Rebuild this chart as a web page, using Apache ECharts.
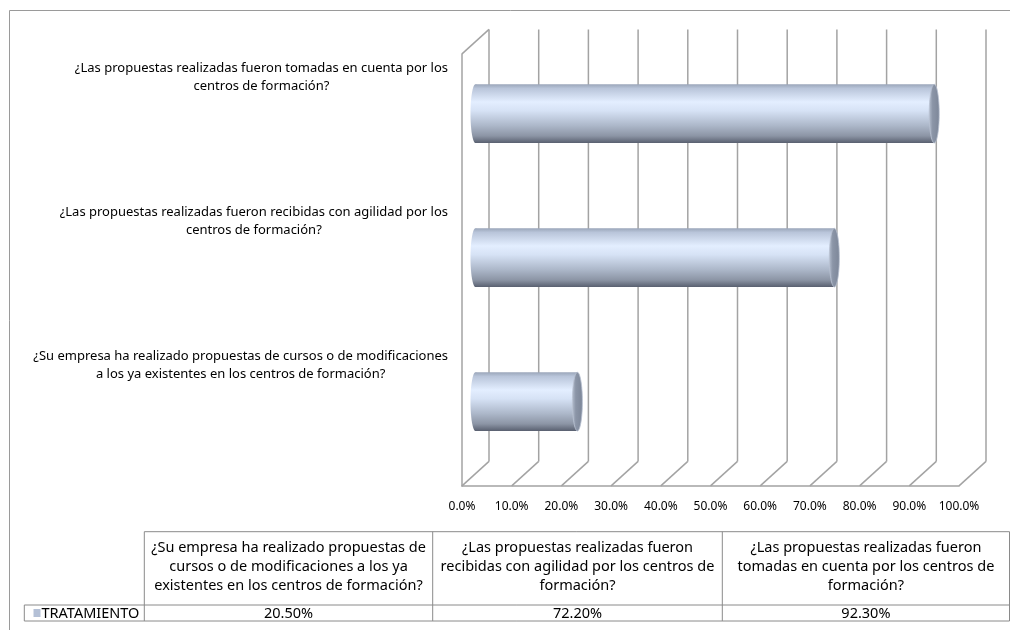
<!DOCTYPE html>
<html>
<head>
<meta charset="utf-8">
<script src="https://cdn.jsdelivr.net/npm/echarts@6/dist/echarts.min.js"></script>
<style>
  html, body { margin: 0; padding: 0; background: #ffffff; }
  #chart { width: 1010px; height: 630px; }
</style>
</head>
<body>
<div id="chart"></div>
<script>
// ---------- data ----------
const categories = [
  '¿Su empresa ha realizado propuestas de cursos o de modificaciones a los ya existentes en los centros de formación?',
  '¿Las propuestas realizadas fueron recibidas con agilidad por los centros de formación?',
  '¿Las propuestas realizadas fueron tomadas en cuenta por los centros de formación?'
];
const axisLabelLines = [
  ['¿Su empresa ha realizado propuestas de cursos o de modificaciones', 'a los ya existentes en los centros de formación?'],
  ['¿Las propuestas realizadas fueron recibidas con agilidad por los', 'centros de formación?'],
  ['¿Las propuestas realizadas fueron tomadas en cuenta por los', 'centros de formación?']
];
const tableHeaderLines = [
  ['¿Su empresa ha realizado propuestas de', 'cursos o de modificaciones a los ya', 'existentes en los centros de formación?'],
  ['¿Las propuestas realizadas fueron', 'recibidas con agilidad por los centros de', 'formación?'],
  ['¿Las propuestas realizadas fueron', 'tomadas en cuenta por los centros de', 'formación?']
];
const seriesName = 'TRATAMIENTO';
const values = [20.5, 72.2, 92.3];
const xTicks = [0, 10, 20, 30, 40, 50, 60, 70, 80, 90, 100];

// ---------- layout ----------
const FONT = '"Noto Sans", "Open Sans", sans-serif';
const DEPTH_X = 27, DEPTH_Y = 24.5;
const W = 497, H = 432;
const BACK = { left: 489, top: 29.4, width: W, height: H };
const MID = { left: BACK.left - DEPTH_X / 2, top: BACK.top + DEPTH_Y / 2, width: W, height: H };
const FRONT = { left: BACK.left - DEPTH_X, top: BACK.top + DEPTH_Y, width: W, height: H };
const LABELG = { left: MID.left, top: MID.top - 36.5, width: W, height: H };
const GRID_COLOR = '#a3a3a3';

const chart = echarts.init(document.getElementById('chart'), null, { renderer: 'canvas' });

const barGrad = new echarts.graphic.LinearGradient(0, 0, 0, 1, [
  { offset: 0, color: '#9ba6ba' },
  { offset: 0.07, color: '#b9c5da' },
  { offset: 0.3, color: '#e3eeff' },
  { offset: 0.45, color: '#d6e2f5' },
  { offset: 0.7, color: '#adb8ca' },
  { offset: 0.88, color: '#8c95a5' },
  { offset: 1, color: '#596070' }
]);
const capGrad = new echarts.graphic.LinearGradient(0, 0, 1, 0, [
  { offset: 0, color: '#b5bfcf' },
  { offset: 0.35, color: '#8b95a7' },
  { offset: 1, color: '#7c8698' }
]);

function frameItem(params, api) {
  const v = api.value(0);
  const top = api.coord([v, 1]);
  const bot = api.coord([v, 0]);
  const ls = { stroke: GRID_COLOR, lineWidth: 1.5 };
  const children = [
    { type: 'line', shape: { x1: top[0], y1: top[1], x2: bot[0], y2: bot[1] }, style: ls },
    { type: 'line', shape: { x1: bot[0], y1: bot[1], x2: bot[0] - DEPTH_X, y2: bot[1] + DEPTH_Y }, style: ls }
  ];
  if (v === 0) {
    children.push({ type: 'line', shape: { x1: top[0], y1: top[1], x2: top[0] - DEPTH_X, y2: top[1] + DEPTH_Y }, style: ls });
  }
  return { type: 'group', children };
}

function cylinderItem(params, api) {
  const idx = api.value(1);
  const v = api.value(0);
  const s = api.coord([0, idx]);
  const e = api.coord([v, idx]);
  const band = api.size([0, 1])[1];
  const h = band * 0.407;
  const rx = 5;
  const cy = s[1];
  return {
    type: 'group',
    children: [
      { type: 'ellipse', shape: { cx: s[0], cy, rx, ry: h / 2 }, style: { fill: barGrad } },
      { type: 'rect', shape: { x: s[0], y: cy - h / 2, width: e[0] - s[0], height: h }, style: { fill: barGrad } },
      { type: 'ellipse', shape: { cx: e[0], cy, rx, ry: h / 2 }, style: { fill: capGrad, stroke: '#b9c2d2', lineWidth: 0.8 } }
    ]
  };
}

// ---------- data table (graphic) ----------
const T = { x0: 24.3, cols: [144.3, 432.7, 722.3, 1009.5], yTop: 531.7, yMid: 605, yBot: 621 };
const TFONT = '14.5px ' + FONT;
const tableEls = [];
const tl = { stroke: '#8a8a8a', lineWidth: 1 };
function hline(x1, x2, y) { tableEls.push({ type: 'line', shape: { x1, y1: y, x2, y2: y }, style: tl }); }
function vline(x, y1, y2) { tableEls.push({ type: 'line', shape: { x1: x, y1, x2: x, y2 }, style: tl }); }
hline(T.cols[0], T.cols[3], T.yTop);
hline(T.x0, T.cols[3], T.yMid);
hline(T.x0, T.cols[3], T.yBot);
vline(T.x0, T.yMid, T.yBot);
T.cols.forEach(x => vline(x, T.yTop, T.yBot));
tableHeaderLines.forEach((lines, i) => {
  const cx = (T.cols[i] + T.cols[i + 1]) / 2;
  lines.forEach((ln, j) => {
    tableEls.push({ type: 'text', style: { text: ln, x: cx, y: 547.5 + j * 19, align: 'center', verticalAlign: 'middle', font: TFONT, fill: '#000' } });
  });
  tableEls.push({ type: 'text', style: { text: values[i].toFixed(2) + '%', x: cx, y: 613.5, align: 'center', verticalAlign: 'middle', font: TFONT, fill: '#000' } });
});
tableEls.push({ type: 'rect', shape: { x: 33.5, y: 609, width: 7, height: 8 }, style: { fill: '#b4c0d6' } });
tableEls.push({ type: 'text', style: { text: seriesName, x: 41.5, y: 613.5, align: 'left', verticalAlign: 'middle', font: TFONT, fill: '#000' } });
// outer chart-area border (left and top edges)
tableEls.push({ type: 'polyline', shape: { points: [[9.5, 640], [9.5, 10.5], [1020, 10.5]] }, style: { stroke: '#9a9a9a', lineWidth: 1, fill: null } });

const option = {
  backgroundColor: '#ffffff',
  animation: false,
  textStyle: { fontFamily: FONT },
  grid: [
    { left: BACK.left, top: BACK.top, width: BACK.width, height: BACK.height },
    { left: MID.left, top: MID.top, width: MID.width, height: MID.height },
    { left: FRONT.left, top: FRONT.top, width: FRONT.width, height: FRONT.height },
    { left: LABELG.left, top: LABELG.top, width: LABELG.width, height: LABELG.height }
  ],
  xAxis: [
    { gridIndex: 0, type: 'value', min: 0, max: 100, interval: 10, show: false },
    { gridIndex: 1, type: 'value', min: 0, max: 100, interval: 10, show: false },
    { gridIndex: 2, type: 'value', min: 0, max: 100, interval: 10,
      axisLine: { show: true, lineStyle: { color: GRID_COLOR, width: 1.5 } },
      axisTick: { show: false }, splitLine: { show: false },
      axisLabel: { margin: 15, fontSize: 12, color: '#000', fontFamily: FONT, formatter: v => v.toFixed(1) + '%' } },
    { gridIndex: 3, type: 'value', min: 0, max: 100, show: false }
  ],
  yAxis: [
    { gridIndex: 0, type: 'value', min: 0, max: 1, show: false },
    { gridIndex: 1, type: 'category', data: categories, show: false },
    { gridIndex: 2, type: 'value', min: 0, max: 1,
      axisLine: { show: true, lineStyle: { color: GRID_COLOR, width: 1.5 } },
      axisTick: { show: false }, axisLabel: { show: false }, splitLine: { show: false } },
    { gridIndex: 3, type: 'category', data: categories,
      axisLine: { show: false }, axisTick: { show: false }, splitLine: { show: false },
      axisLabel: {
        margin: MID.left - 448, align: 'right', color: '#000',
        formatter: (val, idx) => axisLabelLines[idx].map(l => '{c|' + l + '}').join('\n'),
        rich: { c: { align: 'center', fontSize: 13, lineHeight: 18, fontFamily: FONT, color: '#000' } }
      } }
  ],
  series: [
    { type: 'custom', name: 'frame', xAxisIndex: 0, yAxisIndex: 0, renderItem: frameItem,
      data: xTicks.map(v => [v]), encode: { x: 0 }, silent: true, z: 1 },
    { type: 'custom', name: seriesName, xAxisIndex: 1, yAxisIndex: 1, renderItem: cylinderItem,
      data: values.map((v, i) => [v, i]), encode: { x: 0, y: 1 }, z: 5 }
  ],
  graphic: tableEls
};
chart.setOption(option);
</script>
</body>
</html>
